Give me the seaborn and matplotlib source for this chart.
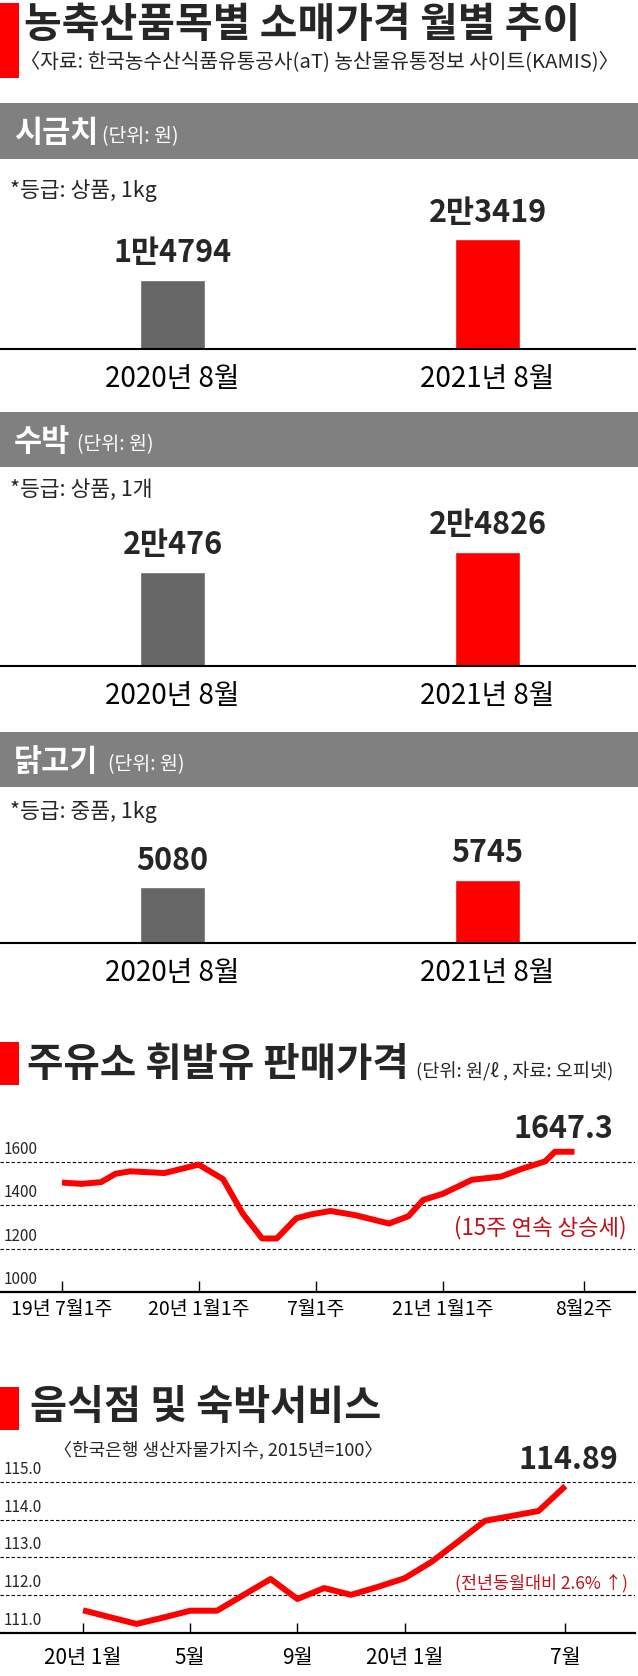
import matplotlib
matplotlib.use('Agg')
import matplotlib.pyplot as plt
import seaborn as sns
from matplotlib.patches import Rectangle

# 농축산품목별 소매가격 (원)
bar_months = ['2020년 8월', '2021년 8월']
spinach = [14794, 23419]
watermelon = [20476, 24826]
chicken = [5080, 5745]

# 주유소 휘발유 판매가격 (원/ℓ), 19년 7월1주부터 주 단위
gas_week = [0, 4, 8, 11, 14, 21, 28, 33, 37, 41, 44, 48, 51, 55, 60,
            67, 71, 74, 78, 84, 90, 94, 99, 101, 105]
gas_price = [1505, 1499, 1507, 1546, 1557, 1549, 1588, 1521, 1363, 1247,
             1247, 1340, 1358, 1374, 1355, 1316, 1350, 1425, 1453, 1518,
             1533, 1567, 1603, 1647.3, 1647.3]
gas_ticks = [0, 28, 52, 78, 107]
gas_tick_labels = ['19년 7월1주', '20년 1월1주', '7월1주', '21년 1월1주', '8월2주']
gas_yticks = [1000, 1200, 1400, 1600]

# 음식점 및 숙박서비스 생산자물가지수 (2015=100), 20년 1월부터 월 단위
food_month = list(range(19))
food_index = [111.60, 111.42, 111.24, 111.41, 111.59, 111.59, 112.01, 112.43,
              111.90, 112.19, 112.01, 112.22, 112.45, 112.88, 113.42, 113.97,
              114.10, 114.23, 114.89]
food_ticks = [0, 4, 8, 12, 18]
food_tick_labels = ['20년 1월', '5월', '9월', '20년 1월', '7월']
food_yticks = [111.0, 112.0, 113.0, 114.0, 115.0]

RED = '#ff0000'
DARKRED = '#c0101a'
BAR_GRAY = '#666666'
BAND = '#808080'

sns.set_theme(style='white')
plt.rcParams['font.family'] = ['Noto Sans CJK KR', 'DejaVu Sans']

W, H = 638, 1676
fig = plt.figure(figsize=(W / 100, H / 100), dpi=100)


def rect(x0, y0, x1, y1):
    return [x0 / W, 1 - y1 / H, (x1 - x0) / W, (y1 - y0) / H]


def put(x, y, s, **kw):
    return fig.text(x / W, 1 - y / H, s, **kw)


def block(x0, y0, x1, y1, color):
    fig.add_artist(Rectangle((x0 / W, 1 - y1 / H), (x1 - x0) / W, (y1 - y0) / H,
                             transform=fig.transFigure, color=color, lw=0))


def won(v):
    if v >= 10000:
        return f'{v // 10000}만{v % 10000}'
    return str(v)


# 머리말
block(0, 3, 19, 78, RED)
put(24, 25, '농축산품목별 소매가격 월별 추이', fontsize=29.5, fontweight='bold', va='center')
put(20, 63, '〈자료: 한국농수산식품유통공사(aT) 농산물유통정보 사이트(KAMIS)〉',
    fontsize=14.6, va='center')

# 막대 차트 3개
sections = [
    ('시금치', 102, '*등급: 상품, 1kg', spinach, 103, 159, 349, 40600, 191),
    ('수박', 77, '*등급: 상품, 1개', watermelon, 412, 467, 666, 43260, 490),
    ('닭고기', 108, '*등급: 중품, 1kg', chicken, 732, 787, 943, 14180, 812),
]
for name, unit_x, grade, vals, top, bot, base, ymax, grade_y in sections:
    block(0, top, W, bot, BAND)
    mid = (top + bot) / 2
    put(14, mid + 11, name, fontsize=22, fontweight='bold', color='white', va='baseline')
    put(unit_x, mid + 11, '(단위: 원)', fontsize=14, color='white', va='baseline')
    put(10, grade_y, grade, fontsize=15.5, va='center')

    ax = fig.add_axes(rect(0, bot, 635, base))
    ax.patch.set_alpha(0)
    sns.barplot(x=bar_months, y=vals, hue=bar_months, palette=[BAR_GRAY, RED],
                width=0.206, saturation=1, legend=False, ax=ax)
    ax.set_xlim(-0.548, 1.468)
    ax.set_ylim(0, ymax)
    ax.set_yticks([])
    ax.set_xlabel('')
    ax.set_ylabel('')
    for s in ['top', 'left', 'right']:
        ax.spines[s].set_visible(False)
    ax.spines['bottom'].set_color('black')
    ax.spines['bottom'].set_linewidth(1.5)
    ax.tick_params(axis='x', length=0, pad=11, labelsize=20, colors='black')
    for i, v in enumerate(vals):
        ax.annotate(won(v), (i, v), xytext=(0, 19), textcoords='offset points',
                    ha='center', va='center', fontsize=22, fontweight='bold')


def line_axes(ax, xs, ys, xlim, ylim, yticks, ticks, labels, fmt, ticklen, pad, lsize):
    sns.lineplot(x=xs, y=ys, ax=ax, color=RED, linewidth=4.3, solid_capstyle='butt')
    ax.patch.set_alpha(0)
    ax.set_xlim(*xlim)
    ax.set_ylim(*ylim)
    ax.set_yticks(yticks)
    ax.grid(axis='y', color='black', linestyle=(0, (3, 2)), linewidth=0.8)
    ax.tick_params(axis='y', left=False, labelleft=False)
    ax.set_xticks(ticks, labels)
    ax.tick_params(axis='x', bottom=True, direction='in', length=ticklen, width=1,
                   color='black', pad=pad, labelsize=lsize, labelcolor='black')
    for s in ['top', 'left', 'right']:
        ax.spines[s].set_visible(False)
    ax.spines['bottom'].set_color('black')
    ax.spines['bottom'].set_linewidth(1.6)
    for v in yticks:
        ax.annotate(fmt.format(v), xy=(0, v), xycoords=ax.get_yaxis_transform(),
                    xytext=(2.5, 3), textcoords='offset points',
                    ha='left', va='bottom', fontsize=11)


# 주유소 휘발유 판매가격
block(0, 1042, 19, 1085, RED)
put(27, 1064, '주유소 휘발유 판매가격', fontsize=28.5, fontweight='bold', va='center')
put(416, 1072, '(단위: 원/ℓ , 자료: 오피넷)', fontsize=13.4, va='center')
ax4 = fig.add_axes(rect(0, 1110, 635, 1292))
line_axes(ax4, gas_week, gas_price, (-12.7, 117.4), (1000, 1840), gas_yticks,
          gas_ticks, gas_tick_labels, '{:d}', 8, 5, 14)
ax4.annotate(f'{gas_price[-1]:.1f}', (gas_week[-1], gas_price[-1]), xytext=(-8, 16.5),
             textcoords='offset points', ha='center', va='center',
             fontsize=22, fontweight='bold')
put(540, 1228, '(15주 연속 상승세)', fontsize=16, color=DARKRED, ha='center', va='center')

# 음식점 및 숙박서비스
block(0, 1387, 19, 1430, RED)
put(30, 1407, '음식점 및 숙박서비스', fontsize=29, fontweight='bold', va='center')
put(54, 1450, '〈한국은행 생산자물가지수, 2015년=100〉', fontsize=13, va='center')
ax5 = fig.add_axes(rect(0, 1440, 635, 1633))
line_axes(ax5, food_month, food_index, (-3.10, 20.6), (111, 116.11), food_yticks,
          food_ticks, food_tick_labels, '{:.1f}', 7, 10, 15)
ax5.annotate(f'{food_index[-1]:.2f}', (food_month[-1], food_index[-1]), xytext=(2, 18.7),
             textcoords='offset points', ha='center', va='center',
             fontsize=22, fontweight='bold')
put(541, 1583, '(전년동월대비 2.6% ↑)', fontsize=12.5, color=DARKRED, ha='center', va='center')

fig.savefig('out.png', dpi=100)
